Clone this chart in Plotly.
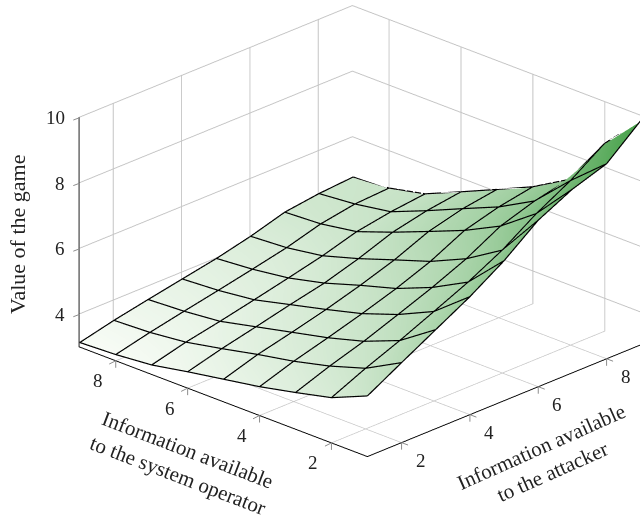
import plotly.graph_objects as go

operator_info = [1, 2, 3, 4, 5, 6, 7, 8, 9]
attacker_info = [1, 2, 3, 4, 5, 6, 7, 8, 9]
# each row: one operator value; each column: one attacker value
r1 = [4.83, 5.42, 6.00, 6.58, 7.25, 8.06, 8.58, 8.93, 9.82]
r2 = [4.36, 4.83, 5.25, 5.71, 6.18, 6.73, 7.42, 8.00, 8.71]
r3 = [4.10, 4.48, 4.81, 5.20, 5.60, 6.05, 6.62, 6.96, 7.19]
r4 = [3.86, 4.21, 4.50, 4.81, 5.15, 5.55, 6.07, 6.36, 6.55]
r5 = [3.67, 4.00, 4.25, 4.52, 4.83, 5.18, 5.62, 5.89, 6.05]
r6 = [3.48, 3.76, 4.00, 4.25, 4.48, 4.80, 5.18, 5.41, 5.56]
r7 = [3.27, 3.54, 3.75, 3.98, 4.22, 4.47, 4.78, 4.96, 5.08]
r8 = [3.17, 3.42, 3.64, 3.85, 4.07, 4.30, 4.60, 4.78, 4.84]
r9 = [3.12, 3.37, 3.58, 3.78, 3.98, 4.23, 4.54, 4.68, 4.76]
values = [r1, r2, r3, r4, r5, r6, r7, r8, r9]
xy_ticks = [2, 4, 6, 8]
z_ticks = [4, 6, 8, 10]
x_title = "Information available<br>to the system operator"
y_title = "Information available<br>to the attacker"
z_title = "Value of the game"

FONT = "Liberation Serif"
GRID = "#c4c4c4"
INK = "#222222"
TICK = "#8c8c8c"
W, H = 640, 518
LIFT = 0.02  # keeps the mesh lines just above the surface they lie on

z_grid = [list(c) for c in zip(*values)]

fig = go.Figure(go.Surface(
    x=operator_info, y=attacker_info, z=z_grid,
    showscale=False, cmin=3.12, cmax=9.82,
    colorscale=[[0, "#f8fcf6"], [1, "#45a048"]],
    lighting=dict(ambient=1, diffuse=0, specular=0, roughness=1, fresnel=0),
    hoverinfo="skip",
))

# mesh lines drawn from the same value table
lx, ly, lz = [], [], []
for i, xv in enumerate(operator_info):
    lx += [xv] * len(attacker_info) + [None]
    ly += attacker_info + [None]
    lz += [v + LIFT for v in values[i]] + [None]
for j, yv in enumerate(attacker_info):
    lx += operator_info + [None]
    ly += [yv] * len(operator_info) + [None]
    lz += [row[j] + LIFT for row in values] + [None]
fig.add_trace(go.Scatter3d(x=lx, y=ly, z=lz, mode="lines", hoverinfo="skip",
                           line=dict(color="black", width=2.4)))

def axis(**kw):
    return dict(showbackground=False, gridcolor=GRID, gridwidth=2, showline=True,
                linecolor="black", linewidth=2, zeroline=False, ticks="",
                title=dict(text=""), showticklabels=False, showspikes=False, **kw)

tick_font = dict(family=FONT, size=19, color=INK)

def tick_mark(x, y, z, ax, ay):
    return dict(x=x, y=y, z=z, text=" ", font=dict(size=1), showarrow=True, arrowhead=0,
                arrowwidth=1, arrowcolor=TICK, ax=ax, ay=ay, standoff=0, startstandoff=0)

scene_notes = []
for v in xy_ticks:
    scene_notes.append(dict(x=v, y=1, z=3, text=str(v), showarrow=False, font=tick_font,
                            xshift=-18, yshift=-20))
    scene_notes.append(dict(x=1, y=v, z=3, text=str(v), showarrow=False, font=tick_font,
                            xshift=19, yshift=-18))
    scene_notes.append(tick_mark(v, 1, 3, 0, 9))
    scene_notes.append(tick_mark(v, 1, 3, -8, 4))
    scene_notes.append(tick_mark(1, v, 3, 0, 9))
    scene_notes.append(tick_mark(1, v, 3, 8, 3))
for v in z_ticks:
    scene_notes.append(dict(x=9, y=1, z=v, text=str(v), showarrow=False, font=tick_font,
                            xanchor="right", xshift=-13, yshift=0))
    scene_notes.append(tick_mark(9, 1, v, -8, 3))

n, ex, ey, ez = 2.0, 0.638, -0.6612, 0.3945
cx, cy, cz = -0.0814, -0.1376, -0.0991

fig.update_layout(
    width=W, height=H, paper_bgcolor="white", margin=dict(l=0, r=0, t=0, b=0),
    showlegend=False,
    scene=dict(
        domain=dict(x=[0, 1], y=[0, 1]),
        xaxis=axis(range=[9.02, 1], tickvals=xy_ticks),
        yaxis=axis(range=[1, 9], tickvals=xy_ticks),
        zaxis=axis(range=[3, 10], tickvals=z_ticks),
        aspectmode="manual",
        aspectratio=dict(x=1.547, y=1.520, z=0.9643),
        annotations=scene_notes,
        camera=dict(
            projection=dict(type="orthographic"),
            up=dict(x=0, y=0, z=1),
            center=dict(x=cx, y=cy, z=cz),
            eye=dict(x=cx + n * ex, y=cy + n * ey, z=cz + n * ez),
        ),
    ),
)
for text, px, py, angle, size in [(z_title, 17, 235, -90, 22), (x_title, 183, 462, 21, 21),
                                  (y_title, 546, 459, -24, 21)]:
    fig.add_annotation(text=text, x=px / W, y=1 - py / H, xref="paper", yref="paper",
                       xanchor="center", yanchor="middle", showarrow=False,
                       textangle=angle, font=dict(family=FONT, size=size, color=INK))
fig.write_html("out.html", config=dict(displayModeBar=False),
               post_script="document.body.style.margin='0';document.documentElement.style.overflow='hidden';")
